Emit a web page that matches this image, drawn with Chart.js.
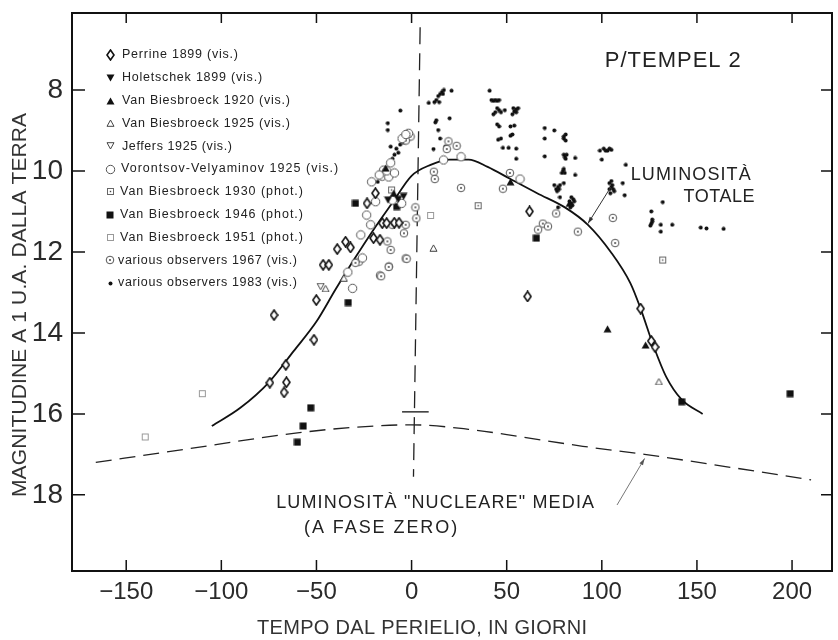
<!DOCTYPE html>
<html><head><meta charset="utf-8">
<script src="https://cdn.jsdelivr.net/npm/chart.js@4.4.1/dist/chart.umd.min.js"></script>
<style>html,body{margin:0;padding:0;background:#fff;}canvas{display:block;}</style>
</head><body>
<canvas id="c" width="838" height="640"></canvas>
<script>
// ---------- tick labels / texts ----------
const xTicks = [-150, -100, -50, 0, 50, 100, 150, 200];
const yTicks = [8, 10, 12, 14, 16, 18];
const xTitle = 'TEMPO DAL PERIELIO, IN GIORNI';
const yTitle = 'MAGNITUDINE A 1 U.A. DALLA TERRA';
const chartTitle = 'P/TEMPEL 2';
const totalLabel = ['LUMINOSITÀ', 'TOTALE'];
const nuclearLabel = ['LUMINOSITÀ "NUCLEARE" MEDIA', '(A FASE ZERO)'];
const seriesNames = [
  'Perrine 1899 (vis.)', 'Holetschek 1899 (vis.)', 'Van Biesbroeck 1920 (vis.)',
  'Van Biesbroeck 1925 (vis.)', 'Jeffers 1925 (vis.)', 'Vorontsov-Velyaminov 1925 (vis.)',
  'Van Biesbroeck 1930 (phot.)', 'Van Biesbroeck 1946 (phot.)', 'Van Biesbroeck 1951 (phot.)',
  'various observers 1967 (vis.)', 'various observers 1983 (vis.)'
];

// ---------- observations [day from perihelion, magnitude] ----------
const perrine1899 = [[-72.3,13.56],[-66.1,14.79],[-74.5,15.23],[-65.8,15.22],[-67,15.47],[-51.3,14.17],[-50.1,13.19],
  [-46.5,12.32],[-43.5,12.32],[-39.1,11.93],[-34.7,11.75],[-32.1,11.89],[-23.4,10.8],[-20,11.66],[-16.6,11.7],
  [-15.4,11.29],[-13.1,11.29],[-9.1,11.28],[-6.6,11.28],[-19,10.55],[62,11.0],[61,13.1],[120.4,13.4],[126,14.2],[128,14.35]];
const holetschek1899 = [[-12.4,10.72],[-4.2,10.63],[-7,10.7]];
const vanBiesbroeck1920 = [[-9.4,10.55],[-13.6,9.93],[52,10.27],[83,10.8],[103,13.9],[123,14.3]];
const vanBiesbroeck1925 = [[-45.2,12.9],[11.5,11.9],[-35.6,12.64],[130,15.2]];
const jeffers1925 = [[-47.8,12.86]];
const vorontsov1925 = [[-1.6,9.07],[-5,9.2],[-14.7,9.98],[-15.5,10.13],[-12,10.15],[-17,10.1],[-18.9,10.76],[-10.1,10.72],
  [-5.2,10.8],[-21.5,11.33],[-26.7,11.58],[-25.8,12.15],[-31,12.9],[-33.5,12.5],[16.8,9.73],[26,9.65],[-21,10.27],[-3,9.1],
  [-23.6,11.09],[57,10.2],[-11,9.8],[-13,10.0],[-9,10.05]];
const vanBiesbroeck1930 = [[-10.5,10.47],[35,10.86],[132,12.2]];
const vanBiesbroeck1946 = [[-29.5,10.8],[-33.3,13.25],[-53,15.85],[-57,16.3],[-60,16.7],[-7.8,10.88],[65.6,11.66],[142,15.7],[199,15.5]];
const vanBiesbroeck1951 = [[-140,16.57],[-110,15.5],[10,11.1]];
const observers1967 = [[-10.1,11.33],[-3.1,11.33],[-4,11.54],[-12.7,11.74],[-11,11.95],[-3.1,12.16],[-11.9,12.36],[-16.6,12.58],
  [-27.6,12.24],[-29.5,12.27],[2.5,11.17],[11.7,10.02],[12.2,10.2],[26,10.42],[48,10.44],[51.7,10.05],[2,10.9],[69,11.3],[71.7,11.37],[66.5,11.45],
  [76,11.05],[87.4,11.5],[105.8,11.16],[107,11.78],[-2.6,12.17],[-12,12.37],[-16,12.6],[-0.5,9.15],[-3,9.25],
  [19.4,9.27],[23.7,9.38],[18.5,9.46]];
const observers1983 = [[-5.9,8.51],[-12.5,8.82],[-12.5,8.99],[-11,9.4],[-8,9.45],[-6,9.35],[-9,9.6],[-7,9.55],[-10,9.7],[-17.8,10.27],[-4,9.3],
  [12,8.3],[14,8.15],[16,8.05],[17,8.0],[21,8.02],[9,8.32],[13,8.25],[15,8.1],[14.5,8.3],[16.5,8.1],
  [12.5,8.8],[13,8.75],[20,8.7],[14,8.99],[15,9.2],[11.5,9.46],[17.7,9.4],[12.5,10.17],
  [41,8.02],[42,8.25],[43,8.27],[44,8.25],[45,8.27],[46,8.25],[43,8.6],[44,8.55],[45,8.45],[46,8.5],[47,8.55],[49,8.5],
  [53.5,8.45],[54,8.53],[55,8.48],[55,8.55],[56,8.45],[53,8.6],[45,8.85],[46,8.9],[52,8.9],[54,8.88],
  [45.5,9.23],[47,9.2],[52,9.13],[53,9.1],[48,9.43],[51,9.43],[55,9.45],[55,9.7],
  [70,8.94],[75,9.0],[80,9.2],[80,9.15],[81,9.1],[81,9.25],[70,9.2],[70,9.64],[80,9.6],[80.6,9.66],[81,9.7],[81.5,9.6],[86,9.68],
  [79,10.05],[79.6,10.0],[80,9.95],[80.5,10.05],[86,10.1],
  [75,10.35],[76,10.45],[76.5,10.5],[77,10.4],[77.5,10.45],[78,10.35],[80,10.3],[78,10.65],
  [83,10.75],[84,10.8],[84.5,10.85],[85,10.7],[85.5,10.75],[84,10.65],[83.5,10.9],[77,10.9],
  [99,9.5],[101,9.45],[102,9.5],[103,9.5],[104,9.45],[105,9.48],[100,9.72],[112.6,9.85],
  [105,10.4],[104,10.3],[105.5,10.35],[104,10.45],[106,10.45],[106.5,10.5],[105,10.25],[104.5,10.55],[112,10.6],[111,10.3],
  [132,10.77],[126,11.0],[126,11.3],[125.5,11.35],[126.5,11.2],[126.5,11.25],[131,11.33],[137,11.33],[131,11.5],[152,11.4],[155,11.42],[164,11.43]];

// ---------- drawn curves ----------
const totalCurve = [[-105,16.3],[-90,15.85],[-75,15.22],[-62,14.45],[-50,13.72],[-40,12.93],[-30,12.17],[-20,11.45],
  [-10,10.78],[0,10.12],[10,9.85],[20,9.72],[30,9.72],[40,9.9],[52,10.2],[66,10.55],[80.6,10.9],[92.7,11.33],
  [104.7,12.0],[115,12.77],[120.4,13.4],[127,14.3],[134,15.1],[142,15.65],[153,16.0]];
const nuclearCurve = [[-166,17.2],[-120,16.88],[-60,16.47],[-30,16.33],[0,16.27],[30,16.38],[58,16.57],[90,16.8],[122.5,17.0],[165,17.3],[210,17.63]];
const perihelionLine = [[4.5,6.45],[1,17.55]];
const nuclearErrorBar = [[-5,15.95],[9,15.95]];

// ---------- marker images ----------
function mk(w, h, fn) { const c = document.createElement('canvas'); c.width = w; c.height = h; const g = c.getContext('2d'); fn(g); return c; }
const INK = '#111';
const M = {
  diamond: mk(9, 12, g => { g.beginPath(); g.moveTo(4.5,1); g.lineTo(8,6); g.lineTo(4.5,11); g.lineTo(1,6); g.closePath(); g.fillStyle='#fff'; g.fill(); g.lineWidth=1.6; g.strokeStyle=INK; g.stroke(); }),
  triDown: mk(9, 8, g => { g.beginPath(); g.moveTo(0.5,0.5); g.lineTo(8.5,0.5); g.lineTo(4.5,7.5); g.closePath(); g.fillStyle=INK; g.fill(); }),
  triUp: mk(9, 8, g => { g.beginPath(); g.moveTo(4.5,0.5); g.lineTo(8.5,7.5); g.lineTo(0.5,7.5); g.closePath(); g.fillStyle=INK; g.fill(); }),
  triUpOpen: mk(9, 8, g => { g.beginPath(); g.moveTo(4.5,1); g.lineTo(8,7.3); g.lineTo(1,7.3); g.closePath(); g.fillStyle='#fff'; g.fill(); g.lineWidth=1; g.strokeStyle='#444'; g.stroke(); }),
  triDownOpen: mk(9, 8, g => { g.beginPath(); g.moveTo(1,0.7); g.lineTo(8,0.7); g.lineTo(4.5,7); g.closePath(); g.fillStyle='#fff'; g.fill(); g.lineWidth=1; g.strokeStyle='#444'; g.stroke(); }),
  circleOpen: mk(11, 11, g => { g.beginPath(); g.arc(5.5,5.5,4.2,0,Math.PI*2); g.fillStyle='#fff'; g.fill(); g.lineWidth=1; g.strokeStyle='#555'; g.stroke(); }),
  squareDot: mk(9, 9, g => { g.fillStyle='#fff'; g.fillRect(1,1,7,7); g.lineWidth=1; g.strokeStyle='#666'; g.strokeRect(1.5,1.5,6,6); g.fillStyle='#444'; g.fillRect(3.8,3.8,1.4,1.4); }),
  squareFilled: mk(8, 8, g => { g.fillStyle=INK; g.fillRect(0.5,0.5,7,7); }),
  squareOpen: mk(9, 9, g => { g.fillStyle='#fff'; g.fillRect(1,1,7,7); g.lineWidth=1; g.strokeStyle='#999'; g.strokeRect(1.5,1.5,6,6); }),
  circleDot: mk(10, 10, g => { g.beginPath(); g.arc(5,5,3.8,0,Math.PI*2); g.fillStyle='#fff'; g.fill(); g.lineWidth=1; g.strokeStyle='#555'; g.stroke(); g.beginPath(); g.arc(5,5,0.9,0,Math.PI*2); g.fillStyle='#333'; g.fill(); }),
  dot: mk(5, 5, g => { g.beginPath(); g.arc(2.5,2.5,2,0,Math.PI*2); g.fillStyle=INK; g.fill(); })
};
const seriesData = [perrine1899, holetschek1899, vanBiesbroeck1920, vanBiesbroeck1925, jeffers1925, vorontsov1925,
  vanBiesbroeck1930, vanBiesbroeck1946, vanBiesbroeck1951, observers1967, observers1983];
const seriesMarkers = [M.diamond, M.triDown, M.triUp, M.triUpOpen, M.triDownOpen, M.circleOpen,
  M.squareDot, M.squareFilled, M.squareOpen, M.circleDot, M.dot];
const toXY = a => a.map(p => ({ x: p[0], y: p[1] }));

const pointSets = seriesNames.map((name, i) => ({
  label: name, data: toXY(seriesData[i]), pointStyle: seriesMarkers[i], pointRadius: 5, pointHoverRadius: 5,
  showLine: false, order: 1
}));
const lineSets = [
  { label: 'total', data: toXY(totalCurve), showLine: true, pointRadius: 0, borderColor: INK, borderWidth: 1.8, cubicInterpolationMode: 'monotone', order: 5 },
  { label: 'nuclear', data: toXY(nuclearCurve), showLine: true, pointRadius: 0, borderColor: '#222', borderWidth: 1.3, borderDash: [16, 8], cubicInterpolationMode: 'monotone', order: 5 },
  { label: 'perihelion', data: toXY(perihelionLine), showLine: true, pointRadius: 0, borderColor: '#222', borderWidth: 1.3, borderDash: [17, 9], order: 5 },
  { label: 'errorbar', data: toXY(nuclearErrorBar), showLine: true, pointRadius: 0, borderColor: '#222', borderWidth: 1.4, order: 5 }
];

// legend text extents (left, right) in px
const legendStart = [122,122,122,122,122,121,120,120,120,118,118];
const legendEnd = [238,262,290,290,232,338,303,303,303,297,297];

const NARROW = "'Liberation Sans Narrow', 'Liberation Sans', Arial, sans-serif";
const REG = "'Liberation Sans', Arial, sans-serif";

function fitText(ctx, text, x, y, width, font, align) {
  ctx.font = font;
  ctx.letterSpacing = '0px';
  const w = ctx.measureText(text).width;
  const n = [...text].length;
  const ls = (width - w) / Math.max(1, n - 1);
  ctx.letterSpacing = ls.toFixed(2) + 'px';
  const x0 = align === 'center' ? x - width / 2 : align === 'right' ? x - width : x;
  ctx.textAlign = 'left';
  ctx.fillText(text, x0, y);
  ctx.letterSpacing = '0px';
}
function arrow(ctx, x1, y1, x2, y2) {
  ctx.beginPath(); ctx.moveTo(x1, y1); ctx.lineTo(x2, y2); ctx.stroke();
  const a = Math.atan2(y2 - y1, x2 - x1), L = 7, W = 0.3;
  ctx.beginPath(); ctx.moveTo(x2, y2);
  ctx.lineTo(x2 - L * Math.cos(a - W), y2 - L * Math.sin(a - W));
  ctx.lineTo(x2 - L * Math.cos(a + W), y2 - L * Math.sin(a + W));
  ctx.closePath(); ctx.fill();
}

const decor = {
  id: 'decor',
  afterDatasetsDraw(chart) {
    const ctx = chart.ctx, a = chart.chartArea, xs = chart.scales.x, ys = chart.scales.y;
    const X = v => xs.getPixelForValue(v), Y = v => ys.getPixelForValue(v);
    ctx.save();
    // frame
    ctx.strokeStyle = INK; ctx.lineWidth = 2;
    ctx.strokeRect(a.left, a.top, a.right - a.left, a.bottom - a.top);
    // inward ticks
    ctx.lineWidth = 1.5;
    ctx.beginPath();
    xTicks.forEach(v => { const x = X(v); ctx.moveTo(x, a.bottom); ctx.lineTo(x, a.bottom - 11); ctx.moveTo(x, a.top); ctx.lineTo(x, a.top + 10); });
    yTicks.forEach(v => { const y = Y(v); ctx.moveTo(a.left, y); ctx.lineTo(a.left + 13, y); ctx.moveTo(a.right, y); ctx.lineTo(a.right - 11, y); });
    ctx.stroke();
    // legend
    ctx.fillStyle = '#222'; ctx.textBaseline = 'middle';
    seriesNames.forEach((name, i) => {
      const cy = 55 + i * 22.8;
      const img = seriesMarkers[i];
      ctx.drawImage(img, Math.round(110 - img.width / 2), Math.round(cy - img.height / 2));
      fitText(ctx, name, legendStart[i], cy, legendEnd[i] - legendStart[i], '12.5px ' + REG, 'left');
    });
    // annotation texts
    ctx.fillStyle = '#222';
    fitText(ctx, chartTitle, X(101.6), Y(7.28), 136, '22px ' + REG, 'left');
    fitText(ctx, totalLabel[0], X(115.2), Y(10.1), 120, '18px ' + REG, 'left');
    fitText(ctx, totalLabel[1], X(143), Y(10.64), 71, '18px ' + REG, 'left');
    fitText(ctx, nuclearLabel[0], X(-71.2), Y(18.2), 318, '18px ' + NARROW, 'left');
    fitText(ctx, nuclearLabel[1], X(-56.5), Y(18.81), 153, '18px ' + NARROW, 'left');
    // arrows
    ctx.strokeStyle = '#333'; ctx.fillStyle = '#333'; ctx.lineWidth = 1;
    arrow(ctx, X(104.7), Y(10.4), X(92.7), Y(11.3));
    ctx.strokeStyle = '#777'; ctx.fillStyle = '#555';
    arrow(ctx, X(108), Y(18.25), X(122.5), Y(17.1));
    // axis titles
    ctx.fillStyle = '#333'; ctx.textBaseline = 'middle';
    fitText(ctx, xTitle, 422, 628, 330, '20px ' + NARROW, 'center');
    ctx.translate(20, 305); ctx.rotate(-Math.PI / 2);
    fitText(ctx, yTitle, 0, 0, 384, '21px ' + NARROW, 'center');
    ctx.restore();
  }
};

const noPad = s => { s.paddingTop = 0; s.paddingBottom = 0; s.paddingLeft = 0; s.paddingRight = 0; };

new Chart(document.getElementById('c'), {
  type: 'scatter',
  data: { datasets: [...lineSets, ...pointSets] },
  options: {
    responsive: false, animation: false, devicePixelRatio: 1,
    layout: { padding: { top: 13, right: 3, left: 0, bottom: 0 } },
    plugins: { legend: { display: false }, tooltip: { enabled: false } },
    scales: {
      x: {
        type: 'linear', min: -178.5, max: 221,
        afterBuildTicks: s => { s.ticks = xTicks.map(v => ({ value: v })); },
        afterFit: s => { s.height = 69; noPad(s); },
        grid: { display: false, drawTicks: false }, border: { display: false },
        ticks: { color: '#2a2a2a', padding: 7, maxRotation: 0, autoSkip: false, font: { family: REG, size: 24 },
          callback: v => v < 0 ? '\u2212' + Math.abs(v) : String(v) }
      },
      y: {
        type: 'linear', reverse: true, min: 6.1, max: 19.88,
        afterBuildTicks: s => { s.ticks = yTicks.map(v => ({ value: v })); },
        afterFit: s => { s.width = 72; noPad(s); },
        grid: { display: false, drawTicks: false }, border: { display: false },
        ticks: { color: '#2a2a2a', padding: 9, autoSkip: false, font: { family: NARROW, size: 28 } }
      }
    }
  },
  plugins: [decor]
});
</script>
</body></html>
